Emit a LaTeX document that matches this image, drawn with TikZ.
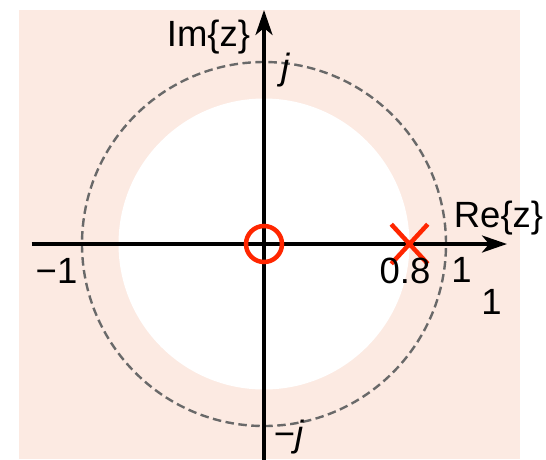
\documentclass[tikz,border=0pt]{standalone}
\usepackage{fontspec}
\setmainfont{Liberation Sans}
\usetikzlibrary{arrows.meta,shapes.misc}
\definecolor{bgpink}{RGB}{252,234,226}
\definecolor{polered}{RGB}{255,38,0}
\definecolor{dashgray}{RGB}{105,105,105}
\begin{document}
\begin{tikzpicture}[x=1pt,y=-1pt,
  lab/.style={font=\fontsize{36.5}{40}\selectfont, inner sep=0pt, anchor=base, text=black},
  axisline/.style={line width=3.4pt, -{Stealth[length=25pt,width=17pt,inset=7pt]}},
  ucircle/.style={dashgray, line width=2.4pt, dash pattern=on 8.5pt off 4.5pt},
  polemark/.style={draw=polered, cross out, line width=4.5pt, minimum width=32pt, minimum height=35pt, inner sep=0pt},
  zeromark/.style={draw=polered, circle, line width=4.5pt, minimum size=36pt, inner sep=0pt}]
\useasboundingbox (0,0) rectangle (546,459);
\fill[bgpink] (19,9.5) rectangle (520,459);
\coordinate (O) at (264,244);
\fill[white] (O) circle[radius=145.5pt];
\draw[ucircle] (O) circle[radius=182pt];
\coordinate (xl) at (31.5,244);
\coordinate (xr) at (507,244);
\coordinate (yb) at (264,460);
\coordinate (yt) at (264,10);
\draw[axisline] (xl) -- (xr);
\draw[axisline] (yb) -- (yt);
\node[zeromark] (zero) at (O) {};
\node[polemark] (pole) at (409.5,244) {};
\node[lab] (imlab) at (208.5,46) {Im\{z\}};
\node[lab] (jlab) at (286,79) {\textit{j}};
\node[lab] (mjlab) at (289,446) {−\textit{j}};
\node[lab] (m1) at (56.5,283) {−1};
\node[lab] (p08) at (405,283) {0.8};
\node[lab] (one) at (461.5,282) {1};
\node[lab] (onelow) at (491.5,314) {1};
\node[lab] (relab) at (498.5,227) {Re\{z\}};
\end{tikzpicture}
\end{document}
